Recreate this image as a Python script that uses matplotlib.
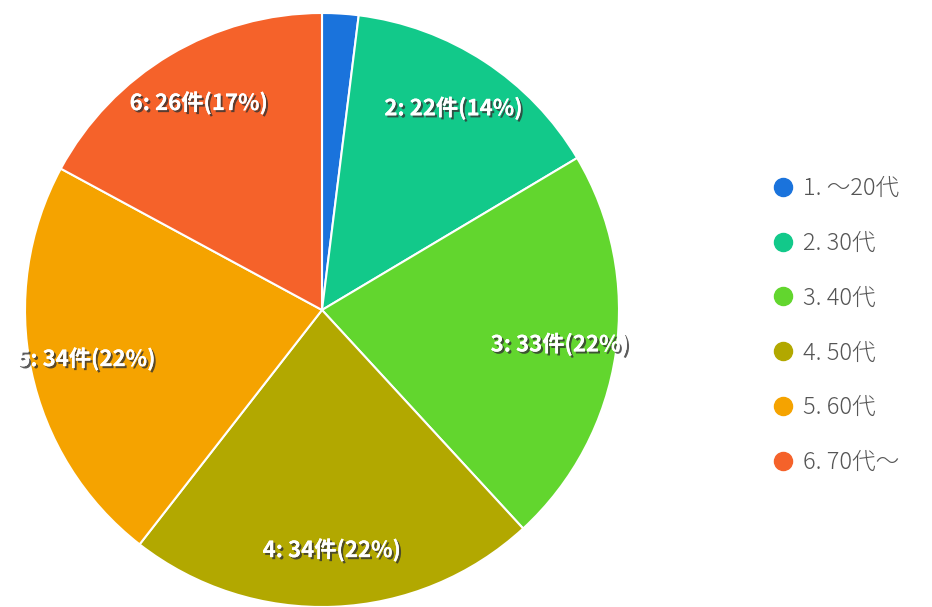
import numpy as np
import matplotlib
matplotlib.use("Agg")
import matplotlib.pyplot as plt
import matplotlib.patheffects as pe
from matplotlib.lines import Line2D

plt.rcParams['font.family'] = ['Noto Sans CJK JP', 'DejaVu Sans']

# data
categories = ["1. ～20代", "2. 30代", "3. 40代", "4. 50代", "5. 60代", "6. 70代～"]
counts = [3, 22, 33, 34, 34, 26]
colors = ["#1a73dc", "#12c98a", "#62d62e", "#b2a800", "#f5a300", "#f5622a"]

fig = plt.figure(figsize=(9.32, 6.07), dpi=100)
cx, cy, r = 322, 310, 297
W, H = 932, 607
ax = fig.add_axes([(cx - r) / W, (H - cy - r) / H, 2 * r / W, 2 * r / H])

wedges, _ = ax.pie(counts, colors=colors, startangle=90, counterclock=False,
                   wedgeprops=dict(edgecolor="white", linewidth=1.5))
ax.set_xlim(-1, 1)
ax.set_ylim(-1, 1)
ax.set_aspect("equal")
ax.axis("off")

total = sum(counts)
shadow = [pe.withSimplePatchShadow(offset=(1.5, -1.5), shadow_rgbFace="#333333", alpha=0.8),
          pe.Normal()]
for i, (w, n) in enumerate(zip(wedges, counts)):
    pct = n / total * 100
    if pct < 5:
        continue  # small slice left unlabeled, as in the original
    ang = np.deg2rad((w.theta1 + w.theta2) / 2)
    d = 0.81
    ax.text(d * np.cos(ang), d * np.sin(ang), f"{i + 1}: {n}件({pct:.0f}%)",
            ha="center", va="center", color="white", fontsize=16,
            fontweight="bold", path_effects=shadow)

handles = [Line2D([], [], marker="o", linestyle="none", markersize=13,
                  markerfacecolor=c, markeredgecolor=c) for c in colors]
fig.legend(handles, categories, loc="upper left", bbox_to_anchor=(752 / W, 1 - 155 / H),
           frameon=False, labelspacing=1.26, handletextpad=0.45,
           handlelength=0.8, labelcolor="#555555",
           prop=dict(family=['Noto Sans CJK JP', 'DejaVu Sans'], size=17, weight="light"))

fig.savefig("out.png", dpi=100)
